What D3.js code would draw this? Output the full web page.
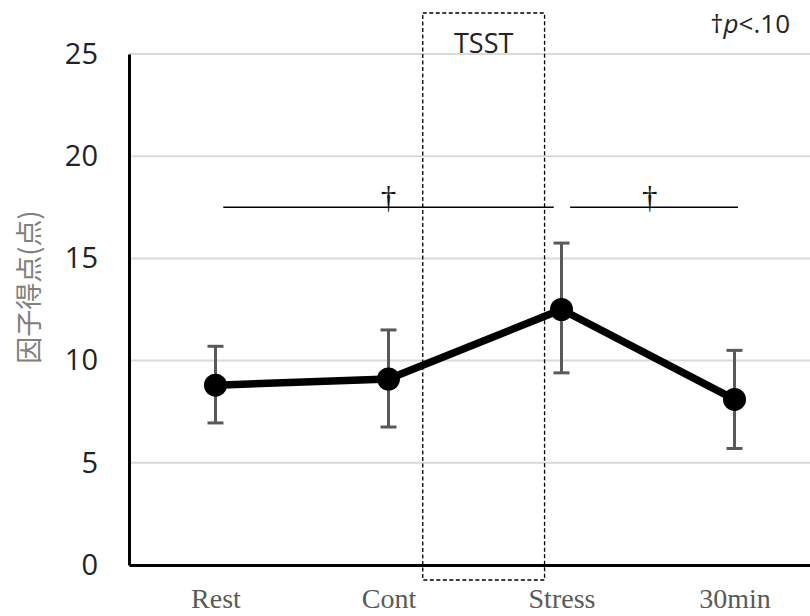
<!DOCTYPE html>
<html>
<head>
<meta charset="utf-8">
<script src="https://cdn.jsdelivr.net/npm/d3@7"></script>
<style>
  html, body { margin: 0; padding: 0; background: #fff; }
  svg { display: block; }
</style>
</head>
<body>
<svg id="chart" width="810" height="616"></svg>
<script>
// Time points and factor scores (mean with error range)
const categories = ["Rest", "Cont", "Stress", "30min"];
const means = [8.8, 9.1, 12.5, 8.1];
const upper = [10.7, 11.5, 15.75, 10.5];
const lower = [6.95, 6.75, 9.4, 5.7];
const yTicks = [0, 5, 10, 15, 20, 25];

// Significance brackets: from/to in category index units, label position
const sigBrackets = [
  { from: 0.045, to: 1.955, mark: "†", at: 1.0 },
  { from: 2.05, to: 3.02, mark: "†", at: 2.51 }
];

const svg = d3.select("#chart");
const plotLeft = 129, plotRight = 821, plotTop = 54, plotBottom = 565;

const x = d3.scalePoint().domain(categories).range([plotLeft, plotRight]).padding(0.5);
const step = x.step();
const xi = i => x(categories[0]) + i * step;
const y = d3.scaleLinear().domain([0, 25]).range([plotBottom, plotTop]);

// Horizontal gridlines
svg.append("g")
  .selectAll("line")
  .data(yTicks.filter(d => d > 0))
  .join("line")
  .attr("x1", plotLeft).attr("x2", 810)
  .attr("y1", d => y(d)).attr("y2", d => y(d))
  .attr("stroke", "#d9d9d9").attr("stroke-width", 2);

// Y axis
const yAxis = svg.append("g")
  .attr("transform", `translate(${plotLeft},0)`)
  .call(d3.axisLeft(y).tickValues(yTicks).tickSize(0).tickPadding(31));
yAxis.select(".domain").attr("stroke", "#000").attr("stroke-width", 3);
yAxis.selectAll("text")
  .attr("font-family", "'Open Sans', 'Liberation Sans', sans-serif")
  .attr("font-size", 29).attr("fill", "#222");

// X axis
const xAxis = svg.append("g")
  .attr("transform", `translate(0,${plotBottom})`)
  .call(d3.axisBottom(x).tickSize(0).tickPadding(23));
xAxis.select(".domain").attr("stroke", "#000").attr("stroke-width", 3);
xAxis.selectAll("text")
  .attr("font-family", "'Liberation Serif', 'DejaVu Serif', serif")
  .attr("font-size", 28).attr("fill", "#595959");

// Y axis title
svg.append("text")
  .attr("transform", `translate(27,287) rotate(-90)`)
  .attr("text-anchor", "middle")
  .attr("dominant-baseline", "central")
  .attr("font-family", "'Noto Sans CJK JP', sans-serif")
  .attr("font-size", 27).attr("fill", "#808080")
  .text("因子得点(点)");

// TSST dashed window between Cont and Stress
const boxX1 = xi(1.198), boxX2 = xi(1.902);
svg.append("rect")
  .attr("x", boxX1).attr("y", 13)
  .attr("width", boxX2 - boxX1).attr("height", 580 - 13)
  .attr("fill", "none").attr("stroke", "#000")
  .attr("stroke-width", 1.3).attr("stroke-dasharray", "4,2.5");
svg.append("text")
  .attr("x", (boxX1 + boxX2) / 2).attr("y", 52.5)
  .attr("text-anchor", "middle")
  .attr("font-family", "'Open Sans', 'Liberation Sans', sans-serif")
  .attr("font-size", 27).attr("fill", "#222")
  .text("TSST");

// Significance brackets
const sigY = y(17.5);
const sg = svg.append("g");
sg.selectAll("line")
  .data(sigBrackets)
  .join("line")
  .attr("x1", d => xi(d.from)).attr("x2", d => xi(d.to))
  .attr("y1", sigY).attr("y2", sigY)
  .attr("stroke", "#000").attr("stroke-width", 1.5);
sg.selectAll("text")
  .data(sigBrackets)
  .join("text")
  .attr("x", d => xi(d.at)).attr("y", sigY + 1)
  .attr("text-anchor", "middle")
  .attr("font-family", "'Liberation Serif', serif")
  .attr("font-size", 31).attr("fill", "#111")
  .text(d => d.mark);

// Significance note
const note = svg.append("text")
  .attr("x", 790).attr("y", 33)
  .attr("text-anchor", "end")
  .attr("font-family", "'Open Sans', 'Liberation Sans', sans-serif")
  .attr("font-size", 26).attr("fill", "#222");
note.append("tspan").text("†");
note.append("tspan").attr("font-style", "italic").text("p");
note.append("tspan").text("<.10");

// Error bars
const eg = svg.append("g").attr("stroke", "#595959").attr("stroke-width", 3);
categories.forEach((c, i) => {
  const cx = x(c);
  eg.append("line").attr("x1", cx).attr("x2", cx).attr("y1", y(upper[i])).attr("y2", y(lower[i]));
  eg.append("line").attr("x1", cx - 8).attr("x2", cx + 8).attr("y1", y(upper[i])).attr("y2", y(upper[i]));
  eg.append("line").attr("x1", cx - 8).attr("x2", cx + 8).attr("y1", y(lower[i])).attr("y2", y(lower[i]));
});

// Mean line and markers
const line = d3.line().x((d, i) => x(categories[i])).y(d => y(d));
svg.append("path")
  .datum(means)
  .attr("d", line)
  .attr("fill", "none").attr("stroke", "#000")
  .attr("stroke-width", 7.5).attr("stroke-linejoin", "round");
svg.append("g")
  .selectAll("circle")
  .data(means)
  .join("circle")
  .attr("cx", (d, i) => x(categories[i]))
  .attr("cy", d => y(d))
  .attr("r", 11.5)
  .attr("fill", "#000");
</script>
</body>
</html>
